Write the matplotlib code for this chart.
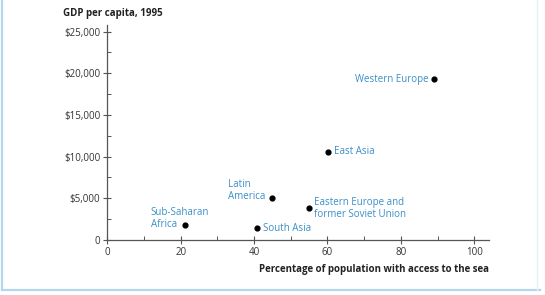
import matplotlib
matplotlib.use('Agg')
import matplotlib.pyplot as plt
from matplotlib.lines import Line2D

plt.rcParams['font.family'] = ['Open Sans', 'DejaVu Sans']

# data
regions = ['Sub-Saharan\nAfrica', 'South Asia', 'Latin\nAmerica',
           'Eastern Europe and\nformer Soviet Union', 'East Asia', 'Western Europe']
sea_access = [21.2, 40.9, 45.0, 55.0, 60.1, 89.0]
gdp = [1800, 1400, 5000, 3800, 10600, 19300]
x_ticks = [0, 20, 40, 60, 80, 100]
y_ticks = [0, 5000, 10000, 15000, 20000, 25000]
y_ticklabels = ['0', '$5,000', '$10,000', '$15,000', '$20,000', '$25,000']

# label offsets (points) and alignment for each region
offsets = [(-24.7, 4.5), (4.3, 0), (-32, 5.4), (3.6, 0), (4.3, 0), (-4, 0)]
aligns = ['left', 'left', 'left', 'left', 'left', 'right']

blue = '#3a8fc8'
grey = '#555555'

fig = plt.figure(figsize=(5.45, 2.95), dpi=100)
ax = fig.add_axes([0.197, 0.1864, 0.700, 0.729])

ax.scatter(sea_access, gdp, s=12, color='black', zorder=3)
for name, x, y, off, ha in zip(regions, sea_access, gdp, offsets, aligns):
    ax.annotate(name, (x, y), xytext=off, textcoords='offset points',
                ha=ha, va='center', fontsize=7, color=blue, linespacing=1.15)

ax.set_xlim(0, 104)
ax.set_ylim(0, 25800)
ax.set_xticks(x_ticks)
ax.set_yticks(y_ticks)
ax.set_yticklabels(y_ticklabels)
ax.set_xticks([10, 30, 50, 70, 90], minor=True)
ax.set_yticks([2500, 7500, 12500, 17500, 22500], minor=True)

for s in ['top', 'right']:
    ax.spines[s].set_visible(False)
for s in ['left', 'bottom']:
    ax.spines[s].set_color(grey)
    ax.spines[s].set_linewidth(0.9)

ax.tick_params(which='major', direction='inout', length=6, width=0.8,
               color=grey, labelsize=7, labelcolor='#333333', pad=2)
ax.tick_params(which='minor', direction='in', length=3, width=0.7, color=grey)

ax.set_xlabel('Percentage of population with access to the sea', fontsize=7,
              fontweight='bold', color='#222222', loc='right', labelpad=4)
fig.text(0.116, 0.955, 'GDP per capita, 1995', fontsize=7, fontweight='bold',
         color='#222222', ha='left', va='center')

# light blue frame round the figure
frame = '#b5d6ec'
fig.add_artist(Line2D([0.0045, 0.0045], [0.0155, 1.0], color=frame, lw=1.6,
                      transform=fig.transFigure))
fig.add_artist(Line2D([0.0045, 0.99], [0.0155, 0.0155], color=frame, lw=1.6,
                      transform=fig.transFigure))
fig.add_artist(Line2D([0.986, 0.986], [0.0155, 1.0], color='#e4f0f8', lw=1.0,
                      transform=fig.transFigure))

fig.savefig('out.png', dpi=100)
